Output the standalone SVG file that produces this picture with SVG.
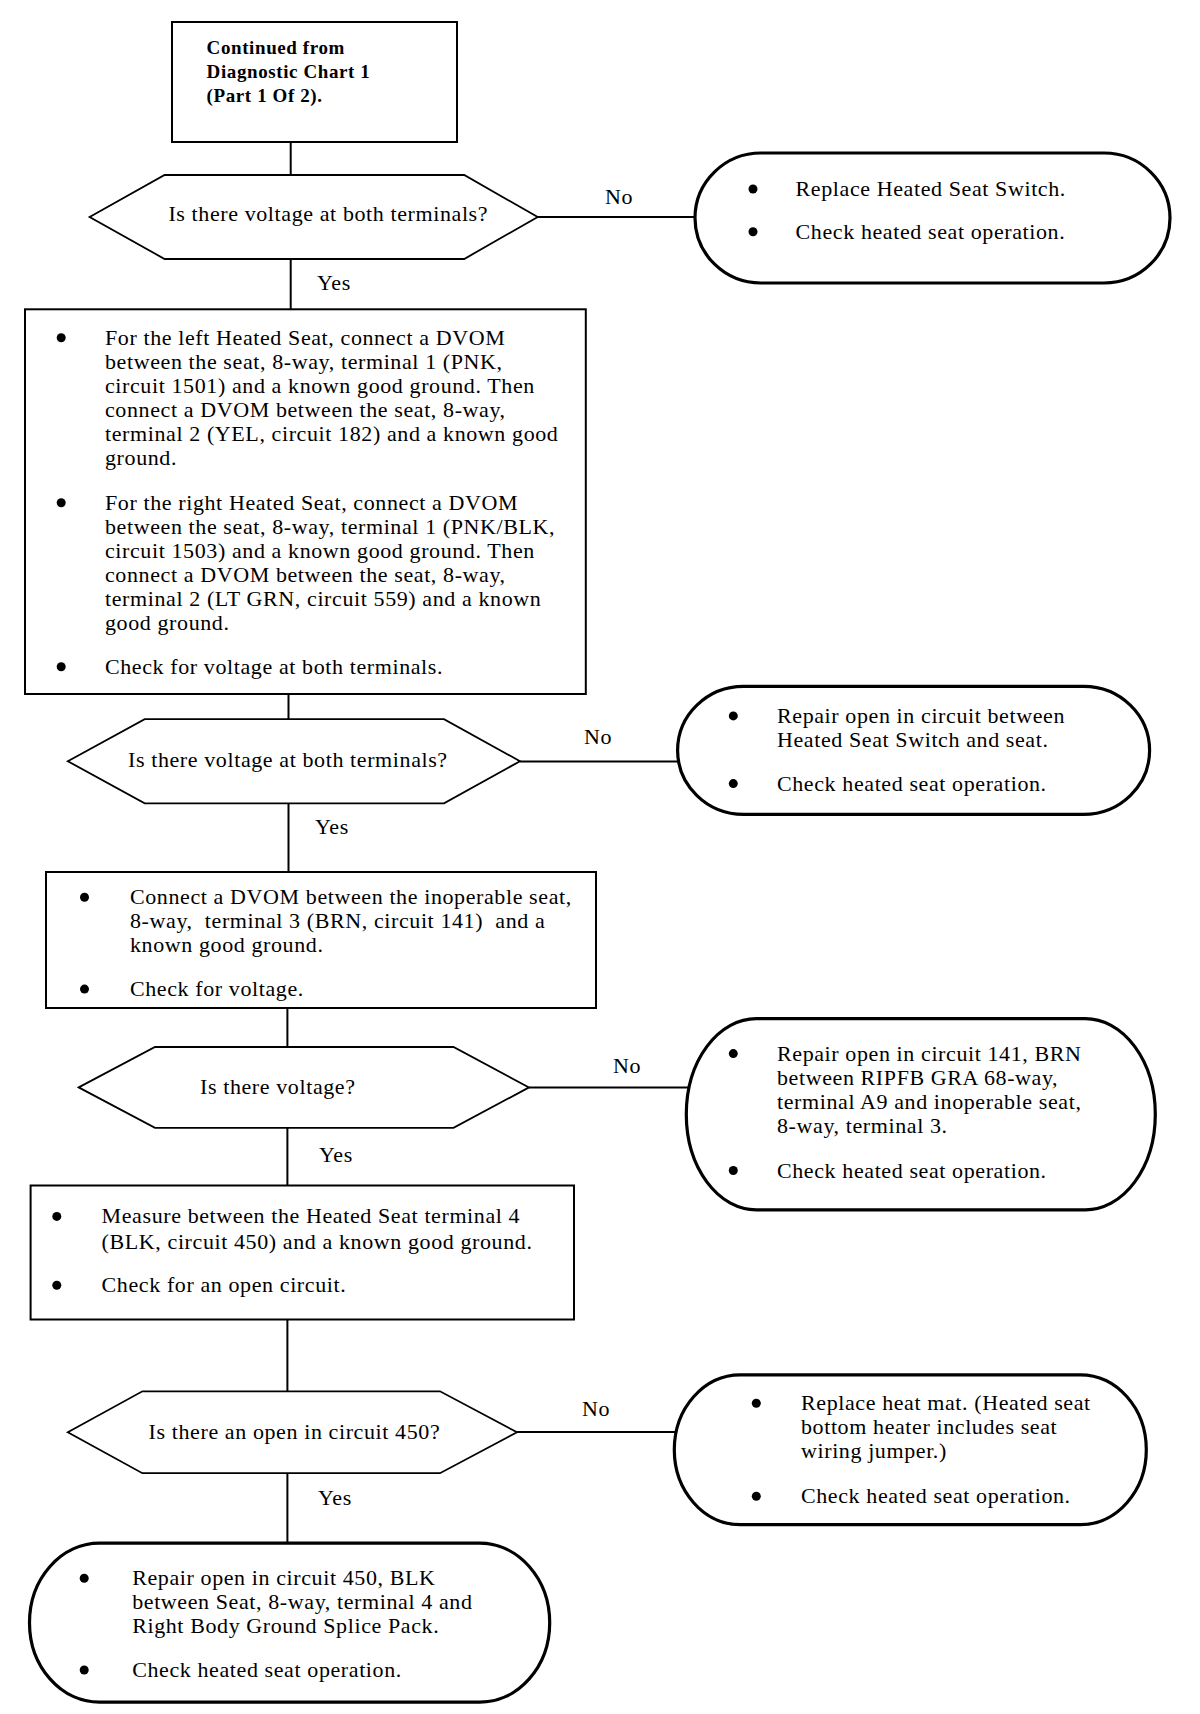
<svg xmlns="http://www.w3.org/2000/svg" width="1200" height="1714" viewBox="0 0 1200 1714">
<style>
text{font-family:"Liberation Serif","Times New Roman",serif;font-size:22px;letter-spacing:0.6px;fill:#000}
.b{font-weight:bold;font-size:19px;letter-spacing:0.6px}
.box{fill:#fff;stroke:#000;stroke-width:2}
.hex{fill:#fff;stroke:#000;stroke-width:1.8}
.ov{fill:#fff;stroke:#000;stroke-width:3.2}
.c line{stroke:#000;stroke-width:2}
.dot{fill:#000}
</style>
<rect width="1200" height="1714" fill="#fff"/>
<g class="c" id="connectors">
<line x1="290.7" y1="142" x2="290.7" y2="175"/>
<line x1="290.7" y1="259" x2="290.7" y2="309"/>
<line x1="537.7" y1="217" x2="695" y2="217"/>
<line x1="288.5" y1="694" x2="288.5" y2="719"/>
<line x1="288.5" y1="803" x2="288.5" y2="872"/>
<line x1="520" y1="761.5" x2="679" y2="761.5"/>
<line x1="287.4" y1="1008" x2="287.4" y2="1047"/>
<line x1="287.4" y1="1128" x2="287.4" y2="1185.5"/>
<line x1="529" y1="1087.5" x2="689" y2="1087.5"/>
<line x1="287.4" y1="1319.5" x2="287.4" y2="1391.3"/>
<line x1="287.4" y1="1473" x2="287.4" y2="1543"/>
<line x1="517" y1="1432" x2="676" y2="1432"/>
<text x="605" y="204">No</text>
<text x="584" y="744">No</text>
<text x="613" y="1073">No</text>
<text x="582" y="1416">No</text>
<text x="317" y="290">Yes</text>
<text x="315" y="834">Yes</text>
<text x="319" y="1162">Yes</text>
<text x="318" y="1505">Yes</text>
</g>
<g id="start">
<rect class="box" x="172" y="22" width="285" height="120"/>
<text class="b" x="206.6" y="54">Continued from</text>
<text class="b" x="206.6" y="78">Diagnostic Chart 1</text>
<text class="b" x="206.6" y="102">(Part 1 Of 2).</text>
</g>
<g id="q1">
<polygon class="hex" points="89.6,217 164.6,175 464.2,175 537.7,217 464.2,259 164.6,259"/>
<text x="168.4" y="221">Is there voltage at both terminals?</text>
</g>
<g id="r1">
<rect class="ov" x="695" y="153" width="475" height="130" rx="66" ry="65"/>
<circle class="dot" cx="753" cy="189" r="4.5"/>
<text x="795.6" y="196">Replace Heated Seat Switch.</text>
<circle class="dot" cx="753" cy="231.7" r="4.5"/>
<text x="795.6" y="238.7">Check heated seat operation.</text>
</g>
<g id="s2">
<rect class="box" x="25" y="309.3" width="560.8" height="384.7"/>
<circle class="dot" cx="61.2" cy="337.7" r="4.5"/>
<text x="105" y="344.7">For the left Heated Seat, connect a DVOM</text>
<text x="105" y="368.8">between the seat, 8-way, terminal 1 (PNK,</text>
<text x="105" y="392.8">circuit 1501) and a known good ground. Then</text>
<text x="105" y="416.8">connect a DVOM between the seat, 8-way,</text>
<text x="105" y="440.9">terminal 2 (YEL, circuit 182) and a known good</text>
<text x="105" y="464.9">ground.</text>
<circle class="dot" cx="61.2" cy="502.7" r="4.5"/>
<text x="105" y="509.7">For the right Heated Seat, connect a DVOM</text>
<text x="105" y="533.8">between the seat, 8-way, terminal 1 (PNK/BLK,</text>
<text x="105" y="557.8">circuit 1503) and a known good ground. Then</text>
<text x="105" y="581.9">connect a DVOM between the seat, 8-way,</text>
<text x="105" y="605.9">terminal 2 (LT GRN, circuit 559) and a known</text>
<text x="105" y="630">good ground.</text>
<circle class="dot" cx="61.2" cy="666.7" r="4.5"/>
<text x="105" y="673.7">Check for voltage at both terminals.</text>
</g>
<g id="q2">
<polygon class="hex" points="67.8,761.2 144.7,719.1 444,719.1 520,761.2 444,803.3 144.7,803.3"/>
<text x="128" y="766.5">Is there voltage at both terminals?</text>
</g>
<g id="r2">
<rect class="ov" x="677.6" y="686.3" width="472" height="128" rx="66" ry="64"/>
<circle class="dot" cx="733.3" cy="715.9" r="4.5"/>
<text x="777" y="722.9">Repair open in circuit between</text>
<text x="777" y="746.9">Heated Seat Switch and seat.</text>
<circle class="dot" cx="733.3" cy="783.6" r="4.5"/>
<text x="777" y="790.6">Check heated seat operation.</text>
</g>
<g id="s3">
<rect class="box" x="46" y="872" width="550" height="136"/>
<circle class="dot" cx="84.5" cy="897.3" r="4.5"/>
<text x="130" y="904.3">Connect a DVOM between the inoperable seat,</text>
<text x="130" y="928.3" xml:space="preserve">8-way,  terminal 3 (BRN, circuit 141)  and a</text>
<text x="130" y="952.4">known good ground.</text>
<circle class="dot" cx="84.5" cy="989.1" r="4.5"/>
<text x="130" y="996.1">Check for voltage.</text>
</g>
<g id="q3">
<polygon class="hex" points="78.7,1087.4 155,1047 453.5,1047 529,1087.4 453.5,1127.9 155,1127.9"/>
<text x="200" y="1094.4">Is there voltage?</text>
</g>
<g id="r3">
<rect class="ov" x="686.3" y="1018.6" width="469" height="191.3" rx="70" ry="95.6"/>
<circle class="dot" cx="733.3" cy="1053.6" r="4.5"/>
<text x="777" y="1060.6">Repair open in circuit 141, BRN</text>
<text x="777" y="1084.6">between RIPFB GRA 68-way,</text>
<text x="777" y="1108.6">terminal A9 and inoperable seat,</text>
<text x="777" y="1132.7">8-way, terminal 3.</text>
<circle class="dot" cx="733.3" cy="1170.5" r="4.5"/>
<text x="777" y="1177.5">Check heated seat operation.</text>
</g>
<g id="s4">
<rect class="box" x="30.6" y="1185.5" width="543.4" height="134"/>
<circle class="dot" cx="56.8" cy="1216.4" r="4.5"/>
<text x="101.6" y="1223.4">Measure between the Heated Seat terminal 4</text>
<text x="101.6" y="1248.5">(BLK, circuit 450) and a known good ground.</text>
<circle class="dot" cx="56.8" cy="1285.3" r="4.5"/>
<text x="101.6" y="1292.3">Check for an open circuit.</text>
</g>
<g id="q4">
<polygon class="hex" points="67.8,1432.2 142.4,1391.3 440,1391.3 517,1432.2 440,1473.2 142.4,1473.2"/>
<text x="148.6" y="1439">Is there an open in circuit 450?</text>
</g>
<g id="r4">
<rect class="ov" x="674.3" y="1374.9" width="472" height="149.7" rx="66" ry="74.8"/>
<circle class="dot" cx="756.3" cy="1403.3" r="4.5"/>
<text x="801" y="1410.3">Replace heat mat. (Heated seat</text>
<text x="801" y="1434.3">bottom heater includes seat</text>
<text x="801" y="1458.4">wiring jumper.)</text>
<circle class="dot" cx="756.3" cy="1496.2" r="4.5"/>
<text x="801" y="1503.2">Check heated seat operation.</text>
</g>
<g id="r5">
<rect class="ov" x="29.5" y="1543.2" width="520.2" height="159" rx="70" ry="79.5"/>
<circle class="dot" cx="84.2" cy="1578.2" r="4.5"/>
<text x="132.2" y="1585.2">Repair open in circuit 450, BLK</text>
<text x="132.2" y="1609.2">between Seat, 8-way, terminal 4 and</text>
<text x="132.2" y="1633.2">Right Body Ground Splice Pack.</text>
<circle class="dot" cx="84.2" cy="1670" r="4.5"/>
<text x="132.2" y="1677">Check heated seat operation.</text>
</g>
</svg>
